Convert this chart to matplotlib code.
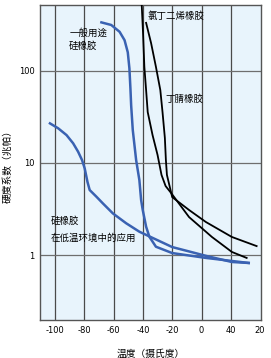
import numpy as np
import matplotlib
matplotlib.use("Agg")
import matplotlib.pyplot as plt

plt.rcParams['font.family'] = ['Noto Sans CJK SC', 'DejaVu Sans']

# 温度（摄氏度） / 硬度系数（兆帕）
neo_t = np.array([-40.8, -39.9, -39.0, -37.8, -36.7, -33.4, -30.0, -27.3, -24.5,
                  -20.7, -8.5, 7.1, 20.7, 30.8])
neo_e = np.array([520, 257, 110, 61.5, 35.5, 20, 12.2, 7.4, 5.6,
                  4.7, 2.58, 1.57, 1.08, 0.93])

nbr_t = np.array([-37.8, -34.4, -31.1, -28.1, -26.6, -25.0, -24.3, -23.6, -20.0,
                  -8.5, 3.0, 20.7, 37.6])
nbr_e = np.array([330, 199, 110, 61.5, 35.5, 18.6, 10.7, 7.4, 4.25,
                  3.08, 2.28, 1.57, 1.25])

gen_t = np.array([-68.3, -61.6, -55.9, -52.5, -50.3, -49.2, -48.5, -48.0, -46.9,
                  -44.6, -42.4, -41.2, -40.1, -37.8, -35.6, -31.1, -20.0, 3.0, 32.2])
gen_e = np.array([334, 313, 264, 214, 158, 106, 64, 42, 22.7,
                  10.7, 6.5, 3.95, 3.08, 2.03, 1.58, 1.23, 1.05, 0.93, 0.82])

low_t = np.array([-103.4, -97.8, -92.1, -87.6, -84.2, -81.5, -79.7, -77.8, -76.3,
                  -71.7, -67.3, -60.5, -51.4, -42.4, -20.0, 3.0, 20.7, 32.2])
low_e = np.array([26.8, 23.7, 20, 16.3, 13.2, 10.7, 8.7, 6.2, 5.07,
                  4.29, 3.63, 2.83, 2.21, 1.79, 1.22, 0.98, 0.84, 0.82])

xticks = [-100, -80, -60, -40, -20, 0, 20, 40]
xtick_labels = ['-100', '-80', '-60', '-40', '-20', '0', '40', '20']

blue = '#3a62b2'

fig = plt.figure(figsize=(2.71, 3.58), dpi=100)
ax = fig.add_axes([0.1476, 0.106, 0.815, 0.881])
ax.set_facecolor('#e8f4fc')

ax.set_yscale('log')
ax.set_xlim(-110.2, 40.5)
ax.set_ylim(0.197, 520)

for x in xticks[:-1]:
    ax.axvline(x, color='#4a4a4a', lw=0.9, zorder=1)
for y in [1, 10, 100]:
    ax.axhline(y, color='#6e6e6e', lw=0.9, zorder=1)

ax.plot(low_t, low_e, color=blue, lw=1.8, zorder=3, solid_joinstyle='round')
ax.plot(gen_t, gen_e, color=blue, lw=1.8, zorder=3, solid_joinstyle='round')
ax.plot(neo_t, neo_e, color='black', lw=1.3, zorder=4, solid_joinstyle='round')
ax.plot(nbr_t, nbr_e, color='black', lw=1.3, zorder=4, solid_joinstyle='round')

ax.set_xticks(xticks)
ax.set_xticklabels(xtick_labels, fontsize=6, family='DejaVu Sans')
ax.set_yticks([1, 10, 100])
ax.set_yticklabels(['1', '10', '100'], fontsize=6, family='DejaVu Sans')
ax.yaxis.set_minor_locator(matplotlib.ticker.NullLocator())
ax.tick_params(length=0, pad=4)

for s in ax.spines.values():
    s.set_color('#555555')
    s.set_linewidth(1.0)

ax.set_xlabel('温度（摄氏度）', fontsize=7, labelpad=10)
fig.text(8 / 271, 0.542, '硬度系数（兆帕）', fontsize=7, rotation=90,
         ha='center', va='center')

fs = 6.8
ax.text(-90.3, 218, '一般用途\n硅橡胶', fontsize=fs, va='center', linespacing=1.45)
ax.text(-36.9, 392, '氯丁二烯橡胶', fontsize=fs, va='center')
ax.text(-24.7, 49, '丁腈橡胶', fontsize=fs, va='center')
ax.text(-102.9, 2.36, '硅橡胶', fontsize=fs, va='center')
ax.text(-102.9, 1.54, '在低温环境中的应用', fontsize=fs, va='center')

fig.savefig('out.png', dpi=100)
